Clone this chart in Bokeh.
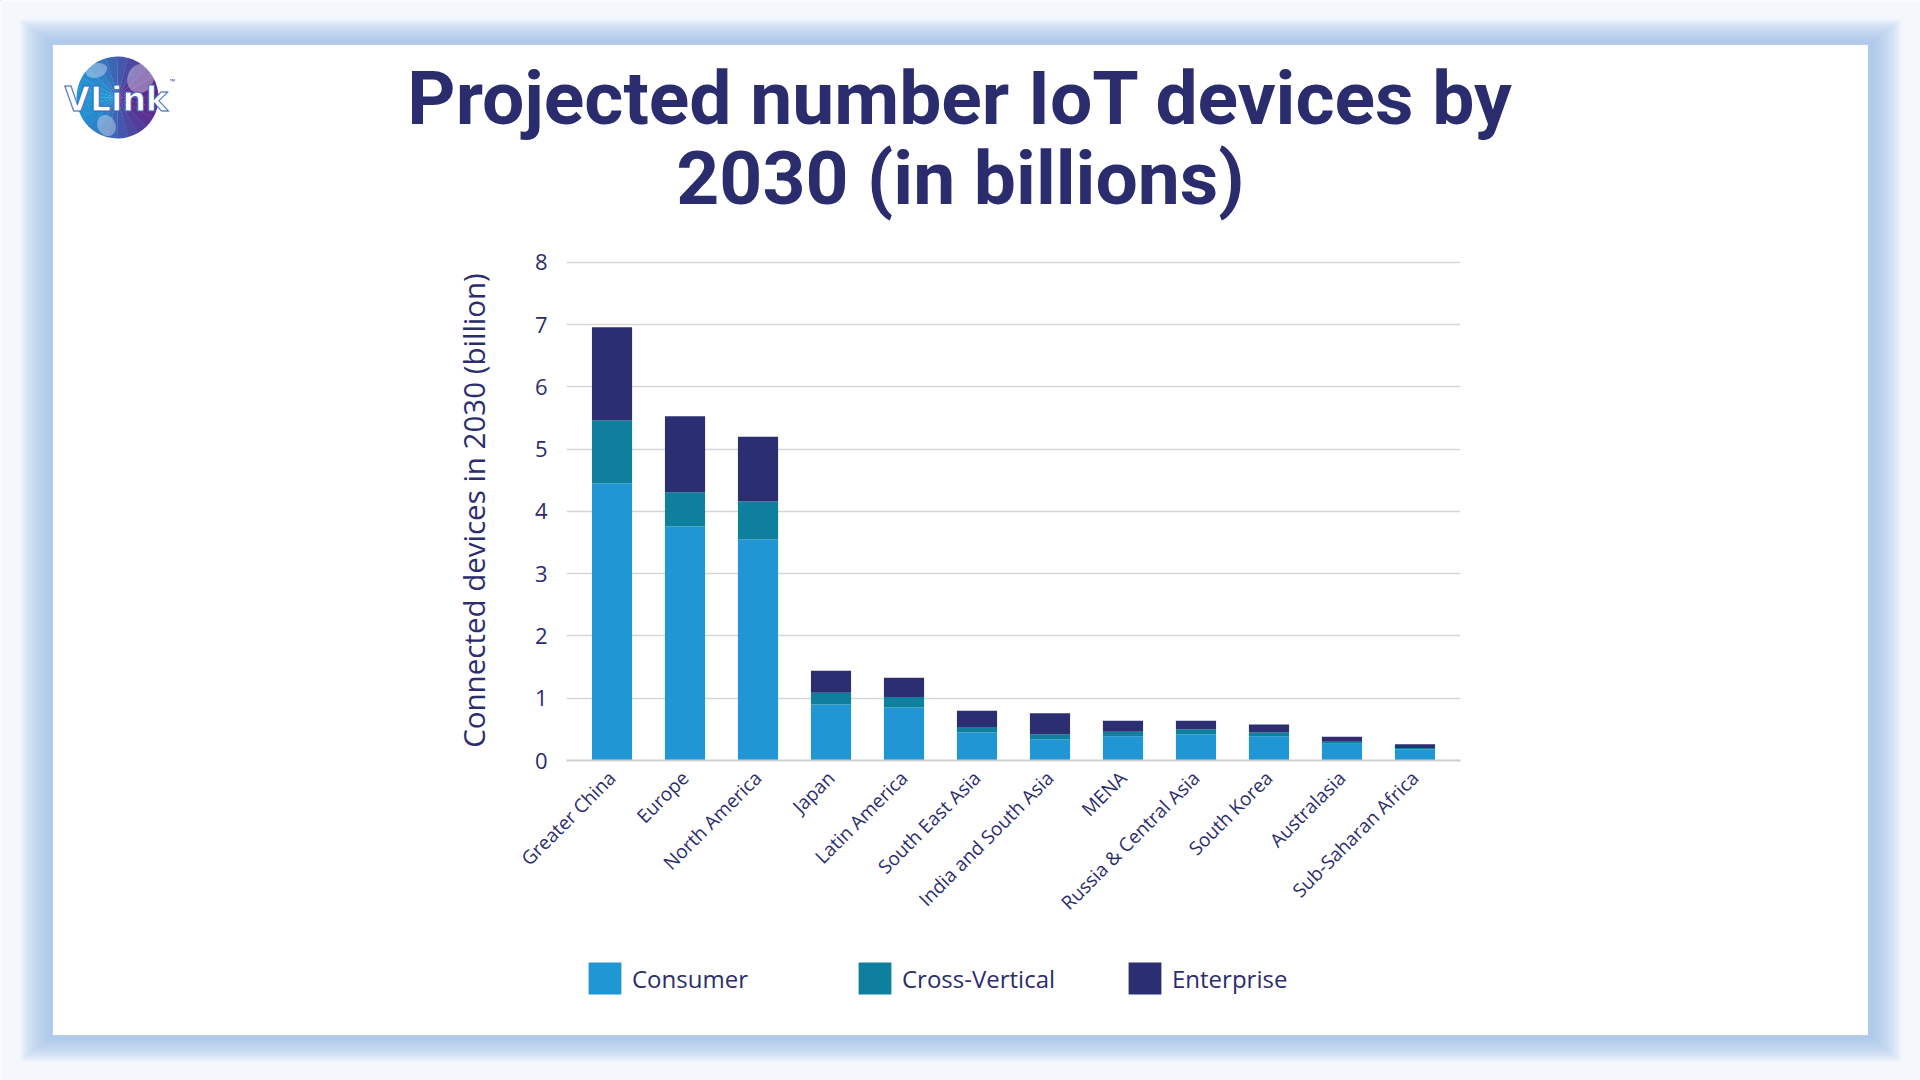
import math
from bokeh.plotting import figure
from bokeh.models import (ColumnDataSource, FactorRange, Range1d, FixedTicker,
                          Label, Legend, LegendItem)
from bokeh.embed import file_html
from bokeh.resources import INLINE

# ---------------- data ----------------
regions = ["Greater China", "Europe", "North America", "Japan", "Latin America",
           "South East Asia", "India and South Asia", "MENA", "Russia & Central Asia",
           "South Korea", "Australasia", "Sub-Saharan Africa"]
consumer = [4.45, 3.76, 3.55, 0.90, 0.85, 0.45, 0.34, 0.39, 0.42, 0.39, 0.27, 0.18]
cross_vertical = [1.01, 0.55, 0.61, 0.19, 0.17, 0.09, 0.08, 0.07, 0.08, 0.06, 0.03, 0.02]
enterprise = [1.50, 1.22, 1.04, 0.35, 0.31, 0.26, 0.34, 0.18, 0.14, 0.13, 0.08, 0.06]
series_names = ["Consumer", "Cross-Vertical", "Enterprise"]
y_ticks = [0, 1, 2, 3, 4, 5, 6, 7, 8]

title_line1 = "Projected number IoT devices by"
title_line2 = "2030 (in billions)"
y_label = "Connected devices in 2030 (billion)"
logo_text = "VLink"

# ---------------- style ----------------
NAVY = "#2b2d6e"
TITLE_COLOR = "#2a2c6e"
COLORS = ["#2196d4", "#0f7f9e", "#2b2e70"]
AX_FONT = "Open Sans"
W, H = 1920, 1080
FL, FT, FR, FB = 566, 260, 1460, 760   # plot frame in canvas px

# ============ background figure (card, logo, title, legend) ============
bg = figure(width=W, height=H, x_range=Range1d(0, W), y_range=Range1d(H, 0),
            x_axis_type=None, y_axis_type=None, output_backend="svg",
            toolbar_location=None, min_border=0)
bg.grid.visible = False
bg.outline_line_color = None
bg.background_fill_color = "#f4f8fd"
bg.border_fill_color = "#f4f8fd"

# glow frame around the white card
for i in range(11):
    d = 32 - 3 * i
    bg.quad(left=52 - d, right=1868 + d, top=44 - d * 0.78, bottom=1035 + d * 0.8,
            fill_color="#9dc0ea", fill_alpha=0.12, line_color=None)
bg.quad(left=52, right=1868, top=44, bottom=1035, fill_color="white",
        line_color="#b4cde8", line_width=1)

# logo globe: horizontal blue -> purple blend made of wedges
blue, purple = (34, 150, 214), (96, 40, 140)
n_w = 24
for k in range(n_w):
    a0 = 2 * math.pi * k / n_w
    a1 = 2 * math.pi * (k + 1) / n_w
    t = (math.cos((a0 + a1) / 2) + 1) / 2
    c = tuple(int(blue[j] + (purple[j] - blue[j]) * t) for j in range(3))
    bg.wedge(x=117, y=97, radius=41, start_angle=a0, end_angle=a1 + 0.01,
             fill_color="#%02x%02x%02x" % c, line_color=None)
# light "land" patches on the globe
bg.ellipse(x=[96, 140, 106], y=[70, 78, 125], width=[22, 26, 18], height=[14, 30, 22],
           angle=[0.3, -0.4, 0.5], fill_color="white", fill_alpha=0.35, line_color=None)
bg.add_layout(Label(x=64, y=99, text=logo_text, text_font="DejaVu Sans",
                    text_font_style="bold", text_font_size="33px",
                    text_color="white", text_outline_color="#3a64b8",
                    text_baseline="alphabetic"))
bg.add_layout(Label(x=169, y=82, text="™", text_font="Roboto", text_font_size="10px",
                    text_color="#5b2f8f", text_baseline="alphabetic"))

# title
for txt, base in [(title_line1, 97), (title_line2, 177)]:
    bg.add_layout(Label(x=960, y=base, text=txt, text_align="center",
                        text_baseline="alphabetic", text_font="Roboto",
                        text_font_style="bold", text_font_size="75px",
                        text_color=TITLE_COLOR))

# legend (swatches use the series colours; the swatch renderers sit off-canvas)
legend_items = []
for name, col in zip(series_names, COLORS):
    r = bg.vbar(x=[-500], bottom=[-500], top=[-490], width=1,
                fill_color=col, line_color=None)
    legend_items.append(LegendItem(label=name, renderers=[r]))
lg = Legend(items=legend_items, orientation="horizontal", location=(584, H - 998),
            margin=0, padding=0, spacing=0, border_line_color=None,
            background_fill_alpha=0, glyph_width=41, glyph_height=40,
            label_standoff=7, label_width=222, label_text_font=AX_FONT,
            label_text_font_size="24px", label_text_color=NAVY)
bg.add_layout(lg)

# ============ chart figure (overlaid on the background) ============
source = ColumnDataSource(dict(region=regions, Consumer=consumer,
                               **{"Cross-Vertical": cross_vertical},
                               Enterprise=enterprise))

p = figure(width=W, height=H,
           x_range=FactorRange(*regions, range_padding=0.0206),
           y_range=Range1d(0, 8.03),
           output_backend="svg", toolbar_location=None,
           min_border_left=FL, min_border_right=W - FR,
           min_border_top=FT, min_border_bottom=H - FB)
p.border_fill_alpha = 0
p.background_fill_alpha = 0
p.outline_line_color = None
p.styles = {"position": "absolute", "top": "0px", "left": "0px"}

p.vbar_stack(series_names, x="region", width=0.55, color=COLORS,
             source=source, line_color=None)

p.xgrid.grid_line_color = None
p.ygrid.grid_line_color = "#d6d6d6"
p.ygrid.grid_line_width = 1.5
p.yaxis.ticker = FixedTicker(ticks=y_ticks)
p.yaxis.axis_line_color = None
p.yaxis.major_tick_line_color = None
p.yaxis.minor_tick_line_color = None
p.yaxis.major_label_standoff = 13
p.yaxis.major_label_text_font = AX_FONT
p.yaxis.major_label_text_font_size = "22px"
p.yaxis.major_label_text_color = NAVY
p.yaxis.axis_label = y_label
p.yaxis.axis_label_text_font = AX_FONT
p.yaxis.axis_label_text_font_style = "normal"
p.yaxis.axis_label_text_font_size = "29.5px"
p.yaxis.axis_label_text_color = NAVY
p.yaxis.axis_label_standoff = 38

p.xaxis.axis_line_color = "#d0d0d0"
p.xaxis.axis_line_width = 2
p.xaxis.major_tick_line_color = None
p.xaxis.minor_tick_line_color = None
p.xaxis.major_label_orientation = math.pi / 4
p.xaxis.major_label_standoff = 8
p.xaxis.major_label_text_font = AX_FONT
p.xaxis.major_label_text_font_size = "19px"
p.xaxis.major_label_text_color = NAVY

open("out.html", "w").write(file_html([bg, p], INLINE))
